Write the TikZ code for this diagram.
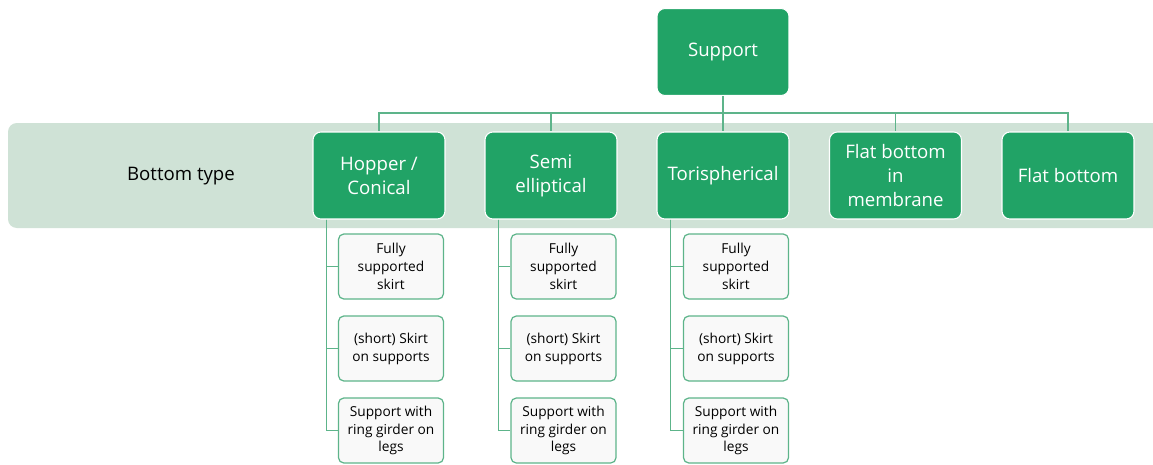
\documentclass[tikz,border=0pt]{standalone}
\usepackage{fontspec}
\setmainfont{Open Sans}
\definecolor{boxgreen}{HTML}{21A366}
\definecolor{bandgreen}{HTML}{CFE2D6}
\definecolor{linegreen}{HTML}{5DB48A}
\definecolor{kidfill}{HTML}{F9F9F9}
\tikzset{
  mainbox/.style={draw=white, line width=0.6pt, fill=boxgreen, rounded corners=4.5pt,
    minimum width=2.64cm, minimum height=1.74cm, align=center, text=white,
    font=\fontsize{10.6}{13.6}\selectfont},
  kidbox/.style={draw=linegreen, line width=0.7pt, fill=kidfill, rounded corners=3pt,
    minimum width=2.1cm, minimum height=1.3cm, align=center, inner sep=1pt,
    font=\fontsize{7.8}{10.2}\selectfont},
  link/.style={draw=linegreen, line width=0.8pt}
}
\begin{document}
\begin{tikzpicture}[x=0.02cm, y=-0.02cm]
    \useasboundingbox (0,0) rectangle (1153,464);
    \fill[bandgreen, rounded corners=5pt] (8,123) rectangle (1163,228);
    \node (label) at (181,176) {\fontsize{10.6}{13.6}\selectfont Bottom type};
    \node[mainbox] (sup) at (723,52) {Support};
    \node[mainbox] (hop) at (379,175.5) {Hopper /\\Conical};
    \node[mainbox] (semi) at (551,175.5) {Semi\\elliptical};
    \node[mainbox] (tori) at (723,175.5) {Torispherical};
    \node[mainbox] (memb) at (895.5,175.5) {Flat bottom\\in\\membrane};
    \node[mainbox] (flat) at (1068,175.5) {Flat bottom};
    \node[kidbox] (hopa) at (391,266.5) {Fully\\supported\\skirt};
    \node[kidbox] (hopb) at (391,348.5) {(short) Skirt\\on supports};
    \node[kidbox] (hopc) at (391,430.5) {Support with\\ring girder on\\legs};
    \node[kidbox] (semia) at (563.5,266.5) {Fully\\supported\\skirt};
    \node[kidbox] (semib) at (563.5,348.5) {(short) Skirt\\on supports};
    \node[kidbox] (semic) at (563.5,430.5) {Support with\\ring girder on\\legs};
    \node[kidbox] (toria) at (736,266.5) {Fully\\supported\\skirt};
    \node[kidbox] (torib) at (736,348.5) {(short) Skirt\\on supports};
    \node[kidbox] (toric) at (736,430.5) {Support with\\ring girder on\\legs};
    \coordinate (bus) at (723,113);
    \draw[link] (sup) -- (bus);
    \draw[link] (bus) -| (hop);
    \draw[link] (bus) -| (semi);
    \draw[link] (bus) -| (tori);
    \draw[link] (bus) -| (memb);
    \draw[link] (bus) -| (flat);
    \draw[link] ([xshift=0.28cm]hop.south west) |- (hopa.west);
    \draw[link] ([xshift=0.28cm]hop.south west) |- (hopb.west);
    \draw[link] ([xshift=0.28cm]hop.south west) |- (hopc.west);
    \draw[link] ([xshift=0.28cm]semi.south west) |- (semia.west);
    \draw[link] ([xshift=0.28cm]semi.south west) |- (semib.west);
    \draw[link] ([xshift=0.28cm]semi.south west) |- (semic.west);
    \draw[link] ([xshift=0.28cm]tori.south west) |- (toria.west);
    \draw[link] ([xshift=0.28cm]tori.south west) |- (torib.west);
    \draw[link] ([xshift=0.28cm]tori.south west) |- (toric.west);
\end{tikzpicture}
\end{document}
